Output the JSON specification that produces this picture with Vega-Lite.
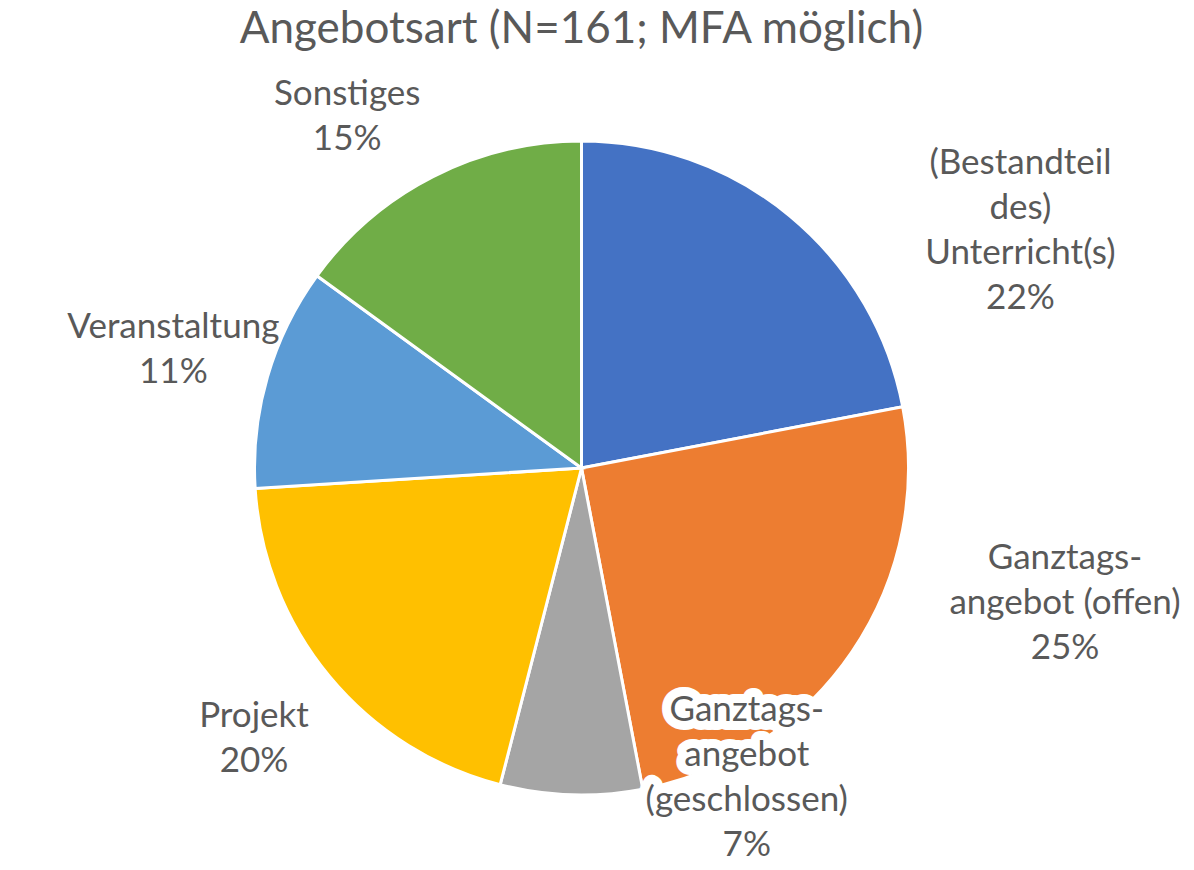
{
  "$schema": "https://vega.github.io/schema/vega-lite/v6.json",
  "width": 1194,
  "height": 870,
  "autosize": {"type": "fit", "contains": "padding"},
  "padding": {"left": 0, "right": 28, "top": 8, "bottom": 0},
  "background": "white",
  "title": {
    "text": "Angebotsart (N=161; MFA möglich)",
    "font": "Lato",
    "fontSize": 44,
    "fontWeight": "normal",
    "color": "#595959",
    "offset": 14
  },
  "data": {
    "values": [
      {"Kategorie": "(Bestandteil\ndes)\nUnterricht(s)", "Anteil": 22, "Ordnung": 1},
      {"Kategorie": "Ganztags-\nangebot (offen)", "Anteil": 25, "Ordnung": 2},
      {"Kategorie": "Ganztags-\nangebot\n(geschlossen)", "Anteil": 7, "Ordnung": 3},
      {"Kategorie": "Projekt", "Anteil": 20, "Ordnung": 4},
      {"Kategorie": "Veranstaltung", "Anteil": 11, "Ordnung": 5},
      {"Kategorie": "Sonstiges", "Anteil": 15, "Ordnung": 6}
    ]
  },
  "transform": [
    {"calculate": "datum.Kategorie + '\\n' + datum.Anteil + '%'", "as": "Beschriftung"},
    {"stack": "Anteil", "groupby": [], "sort": [{"field": "Ordnung", "order": "ascending"}], "as": ["Start", "Ende"]},
    {"calculate": "(datum.Start + datum.Ende) / 2", "as": "Mitte"}
  ],
  "layer": [
    {
      "mark": {"type": "arc", "outerRadius": 327, "stroke": "white", "strokeWidth": 3},
      "encoding": {
        "theta": {"field": "Start", "type": "quantitative", "stack": null, "scale": {"domain": [0, 100]}},
        "theta2": {"field": "Ende"},
        "color": {
          "field": "Kategorie",
          "type": "nominal",
          "legend": null,
          "scale": {
            "domain": ["(Bestandteil\ndes)\nUnterricht(s)", "Ganztags-\nangebot (offen)", "Ganztags-\nangebot\n(geschlossen)", "Projekt", "Veranstaltung", "Sonstiges"],
            "range": ["#4472C4", "#ED7D31", "#A5A5A5", "#FFC000", "#5B9BD5", "#70AD47"]
          }
        }
      }
    },
    {
      "transform": [{"filter": "datum.Ordnung == 4 || datum.Ordnung == 5"}],
      "mark": {"type": "text", "radius": 425, "dy": -22.5, "font": "Lato", "fontSize": 35, "lineHeight": 45, "lineBreak": "\n", "align": "center", "baseline": "middle"},
      "encoding": {
        "theta": {"field": "Mitte", "type": "quantitative", "stack": null},
        "text": {"field": "Beschriftung", "type": "nominal"},
        "color": {"value": "#595959"}
      }
    },
    {
      "transform": [{"filter": "datum.Ordnung == 6"}],
      "mark": {"type": "text", "radius": 395, "dx": -55, "dy": -22.5, "font": "Lato", "fontSize": 35, "lineHeight": 45, "lineBreak": "\n", "align": "center", "baseline": "middle"},
      "encoding": {
        "theta": {"field": "Mitte", "type": "quantitative", "stack": null},
        "text": {"field": "Beschriftung", "type": "nominal"},
        "color": {"value": "#595959"}
      }
    },
    {
      "transform": [{"filter": "datum.Ordnung == 1"}],
      "mark": {"type": "text", "radius": 425, "dx": 168, "dy": 22, "font": "Lato", "fontSize": 35, "lineHeight": 45, "lineBreak": "\n", "align": "center", "baseline": "middle"},
      "encoding": {
        "theta": {"field": "Mitte", "type": "quantitative", "stack": null},
        "text": {"field": "Beschriftung", "type": "nominal"},
        "color": {"value": "#595959"}
      }
    },
    {
      "transform": [{"filter": "datum.Ordnung == 2"}],
      "mark": {"type": "text", "radius": 425, "dx": 132, "dy": -149, "font": "Lato", "fontSize": 35, "lineHeight": 45, "lineBreak": "\n", "align": "center", "baseline": "middle"},
      "encoding": {
        "theta": {"field": "Mitte", "type": "quantitative", "stack": null},
        "text": {"field": "Beschriftung", "type": "nominal"},
        "color": {"value": "#595959"}
      }
    },
    {
      "transform": [{"filter": "datum.Ordnung == 3"}],
      "mark": {"type": "text", "radius": 310, "dx": 175, "dy": -67.5, "font": "Lato", "fontSize": 35, "lineHeight": 45, "lineBreak": "\n", "align": "center", "baseline": "middle", "stroke": "white", "strokeWidth": 18, "strokeJoin": "round"},
      "encoding": {
        "theta": {"field": "Mitte", "type": "quantitative", "stack": null},
        "text": {"field": "Beschriftung", "type": "nominal"},
        "color": {"value": "white"}
      }
    },
    {
      "transform": [{"filter": "datum.Ordnung == 3"}],
      "mark": {"type": "text", "radius": 310, "dx": 175, "dy": -67.5, "font": "Lato", "fontSize": 35, "lineHeight": 45, "lineBreak": "\n", "align": "center", "baseline": "middle"},
      "encoding": {
        "theta": {"field": "Mitte", "type": "quantitative", "stack": null},
        "text": {"field": "Beschriftung", "type": "nominal"},
        "color": {"value": "#595959"}
      }
    }
  ]
}
